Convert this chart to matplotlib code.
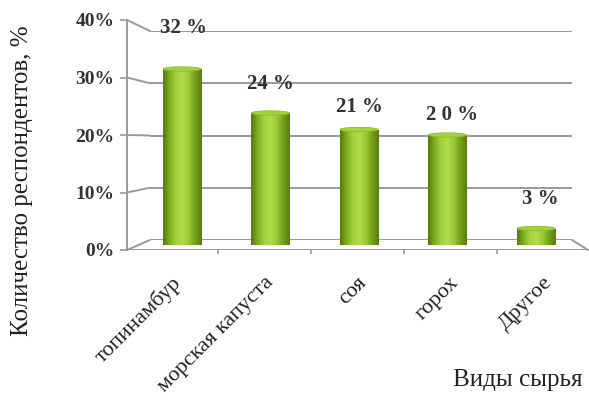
import numpy as np
import matplotlib.pyplot as plt
from matplotlib.patches import Ellipse, ConnectionPatch
from matplotlib.colors import LinearSegmentedColormap

plt.rcParams['font.family'] = ['Liberation Serif', 'DejaVu Serif']

# данные опроса
categories = ['топинамбур', 'морская капуста', 'соя', 'горох', 'Другое']
values = [32, 24, 21, 20, 3]
value_labels = ['32 %', '24 %', '21 %', '2 0 %', '3 %']
yticks = [0, 10, 20, 30, 40]
ytick_labels = ['0%', '10%', '20%', '30%', '40%']

# сдвиг подписей значений над столбиками (в пикселях)
label_offsets = [(1, 41), (0, 29), (0, 23), (5, 20), (4, 30)]

W, H = 589, 401
fig = plt.figure(figsize=(W / 100, H / 100), dpi=100)
fig.patch.set_facecolor('white')


def box(x0, x1, y0, y1):
    # прямоугольник в пикселях (отсчёт сверху) -> доли фигуры
    return [x0 / W, 1 - y1 / H, (x1 - x0) / W, (y1 - y0) / H]


line_col = '#9a9a9a'

# задняя стенка с линиями сетки
ax_back = fig.add_axes(box(150, 572, 31, 240))
ax_back.set_xlim(0, 1)
ax_back.set_ylim(0, 40)
ax_back.axis('off')
for v in yticks:
    ax_back.axhline(v, color=line_col, lw=1.4)

# передняя плоскость: ось значений и передний край пола
ax_front = fig.add_axes(box(127, 588, 20, 250))
ax_front.set_xlim(-0.48, 4.48)
ax_front.set_ylim(0, 40)
ax_front.patch.set_alpha(0)
for s in ['top', 'right', 'bottom']:
    ax_front.spines[s].set_visible(False)
ax_front.spines['left'].set_color(line_col)
ax_front.spines['left'].set_linewidth(1.4)
ax_front.set_yticks(yticks)
ax_front.set_yticklabels(ytick_labels, fontsize=14, fontweight='bold', color='#333333')
ax_front.tick_params(axis='y', length=5, width=1.2, color=line_col, pad=4)
ax_front.set_xticks([0.5, 1.5, 2.5, 3.5])
ax_front.set_xticklabels([])
ax_front.tick_params(axis='x', length=3, width=1.2, color=line_col)
ax_front.axhline(0, color=line_col, lw=1.4)

# диагонали от оси к задней стенке
for v in yticks:
    con = ConnectionPatch(xyA=(0, v), coordsA=ax_front.get_yaxis_transform(),
                          xyB=(0, v), coordsB=ax_back.get_yaxis_transform(),
                          color=line_col, lw=1.4)
    fig.add_artist(con)
con = ConnectionPatch(xyA=(1, 0), coordsA=ax_front.transAxes,
                      xyB=(1, 0), coordsB=ax_back.transAxes,
                      color=line_col, lw=1.4)
fig.add_artist(con)

# подписи категорий под углом 45°
for i, name in enumerate(categories):
    ax_front.annotate(name, xy=(i, 0), xycoords='data',
                      xytext=(6, -30), textcoords='offset pixels',
                      rotation=45, rotation_mode='anchor',
                      ha='right', va='center', fontsize=16, color='#222222',
                      annotation_clip=False)

# плоскость столбиков
ax = fig.add_axes(box(150, 572, 25, 245))
ax.set_xlim(-0.362, 4.407)
ax.set_ylim(0, 40)
ax.axis('off')
ax.patch.set_alpha(0)

cyl = LinearSegmentedColormap.from_list(
    'cyl', ['#557a10', '#7fae22', '#a4d23e', '#b2dc4c', '#9ac836', '#73a01a', '#5a7e10'])
grad = np.linspace(0, 1, 64).reshape(1, -1)
bar_w = 0.43
x = np.arange(len(categories))
bars = ax.bar(x, values, width=bar_w, color='none', edgecolor='none')
for i, (b, v) in enumerate(zip(bars, values)):
    im = ax.imshow(grad, cmap=cyl, aspect='auto', interpolation='bicubic',
                   extent=[i - bar_w / 2, i + bar_w / 2, 0, v], zorder=2)
    im.set_clip_path(b)
    ax.add_patch(Ellipse((i, v), bar_w, 0.8, facecolor='#a4d23e',
                         edgecolor='#8cbc2c', lw=0.6, zorder=3))
    ax.annotate(value_labels[i], xy=(i, v), xycoords='data',
                xytext=label_offsets[i], textcoords='offset pixels',
                ha='center', va='center', fontsize=15, fontweight='bold',
                color='#333333', annotation_clip=False)
ax.set_xlim(-0.362, 4.407)
ax.set_ylim(0, 40)

fig.text(22 / W, 1 - 181 / H, 'Количество респондентов, %', rotation=90,
         ha='center', va='center', fontsize=18, color='#222222')
fig.text(518 / W, 1 - 380 / H, 'Виды сырья', ha='center', va='center',
         fontsize=18, color='#222222')

fig.savefig('out.png', dpi=100, facecolor='white')
